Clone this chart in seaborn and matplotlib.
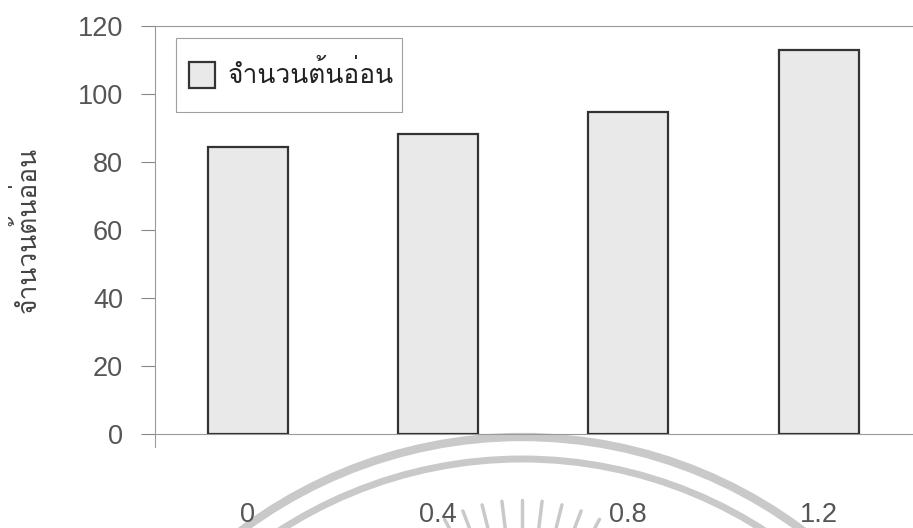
import matplotlib
matplotlib.use('Agg')
import matplotlib.pyplot as plt
import numpy as np
import pandas as pd
import seaborn as sns
from matplotlib import font_manager
from matplotlib.legend_handler import HandlerPatch
from matplotlib.patches import Arc, Patch, Rectangle
from matplotlib.transforms import IdentityTransform

# data
doses = ['0', '0.4', '0.8', '1.2']
seedlings = [84.3, 88.3, 94.7, 112.9]
series_name = 'จำนวนต้นอ่อน'
y_ticks = [0, 20, 40, 60, 80, 100, 120]


def find_thai_font():
    """Look for an installed font that has Thai glyphs"""
    try:
        from fontTools.ttLib import TTFont
    except Exception:
        return None
    for f in font_manager.fontManager.ttflist:
        try:
            tt = TTFont(f.fname, fontNumber=0, lazy=True)
            cmap = tt.getBestCmap()
            if cmap and 0x0E08 in cmap and 0x0E49 in cmap:
                return f.name
        except Exception:
            continue
    return None


def square_patch(legend, orig_handle, xdescent, ydescent, width, height, fontsize):
    # square legend key, centred in the (tall) handle box
    s = fontsize * 1.0
    return Rectangle((-xdescent + (width - s) / 2, -ydescent + (height - s) / 2), s, s)


sns.set_style('white')
thai = find_thai_font()
families = ['Liberation Sans'] + ([thai] if thai else []) + ['DejaVu Sans']
plt.rcParams['font.family'] = families
thai_family = ([thai] if thai else []) + ['Liberation Sans', 'DejaVu Sans']

W, H = 913, 528
fig = plt.figure(figsize=(W / 100, H / 100), dpi=100)
ax = fig.add_axes([155 / W, 1 - 434 / H, (W - 155) / W + 0.005, (434 - 26) / H])
ax.set_facecolor('none')

df = pd.DataFrame({'dose': doses, 'count': seedlings})
sns.barplot(data=df, x='dose', y='count', order=doses, color='#e9e9e9',
            edgecolor='#333333', linewidth=1.6, width=0.42, saturation=1,
            ax=ax, zorder=3)

ax.set_xlim(-0.487, 3.52)
ax.set_ylim(0, 120)
ax.set_yticks(y_ticks)
ax.set_xlabel('')
ax.set_ylabel(series_name, fontsize=19, color='#444444', family=thai_family)
ax.yaxis.set_label_coords(-0.150, 0.5)

ax.tick_params(axis='y', direction='out', length=10, width=0.8, color='#888888',
               labelsize=19.5, labelcolor='#555555', pad=13, left=True)
ax.tick_params(axis='x', length=0, labelsize=19.5, labelcolor='#555555', pad=49)

for side in ['left', 'top', 'bottom']:
    ax.spines[side].set_visible(True)
    ax.spines[side].set_color('#999999')
    ax.spines[side].set_linewidth(0.8)
ax.spines['right'].set_visible(False)
# y axis pokes a little below the x axis
ax.plot([0, 0], [0, -0.032], transform=ax.transAxes, color='#999999', lw=0.8, clip_on=False)

handle = Patch(facecolor='#e9e9e9', edgecolor='#333333', linewidth=1.6, label=series_name)
leg = ax.legend(handles=[handle], loc='upper left', bbox_to_anchor=(0.0277, 0.9706),
                borderaxespad=0, frameon=True, fancybox=False, handlelength=1.35,
                handleheight=3.0, handletextpad=0.32, borderpad=0.3,
                handler_map={Patch: HandlerPatch(patch_func=square_patch)},
                prop={'family': thai_family, 'size': 19})
leg.get_frame().set_edgecolor('#888888')
leg.get_frame().set_linewidth(0.8)
for t in leg.get_texts():
    t.set_color('#222222')

# faint watermark of the scanned page
wm = '#c9c9c9'
cx, cy = 522, H - 905
for r, lw in [(468, 6), (446, 5)]:
    fig.add_artist(Arc((cx, cy), 2 * r, 2 * r, theta1=0, theta2=180, transform=IdentityTransform(),
                       color=wm, lw=lw, zorder=-1))
rx, ry = 522, H - 665
for ang in np.arange(-28, 29, 7):
    a = np.deg2rad(90 + ang)
    fig.add_artist(plt.Line2D([rx + 110 * np.cos(a), rx + 165 * np.cos(a)],
                              [ry + 110 * np.sin(a), ry + 165 * np.sin(a)],
                              transform=IdentityTransform(), color=wm, lw=2.5, zorder=-1))

fig.savefig('out.png', dpi=100)
